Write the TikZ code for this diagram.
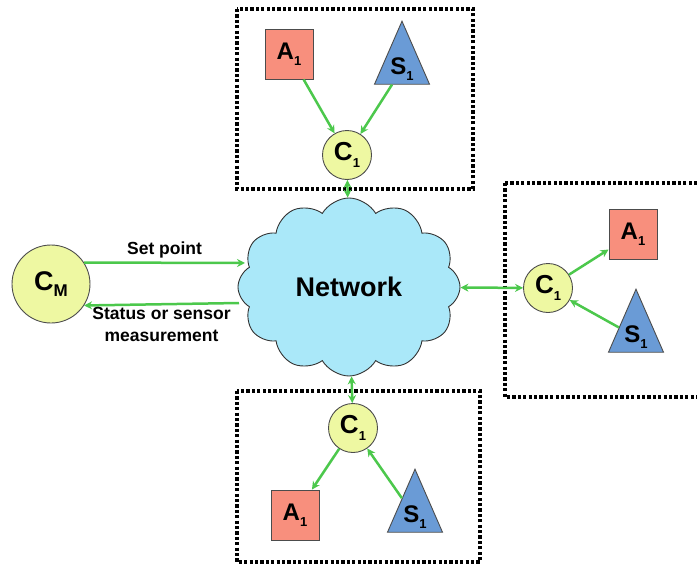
\documentclass[tikz,border=0pt]{standalone}
\usepackage{fontspec}
\setmainfont{Liberation Sans}
\usetikzlibrary{shapes.geometric,shapes.symbols,arrows.meta}
\definecolor{sqfill}{HTML}{F88F7D}
\definecolor{trifill}{HTML}{6A9BD6}
\definecolor{circfill}{HTML}{EEF8A2}
\definecolor{cloudfill}{HTML}{AAE8F9}
\definecolor{arrgreen}{HTML}{4CC84C}
\newcommand\mysub[3][13]{#2\raisebox{-0.45ex}{\fontsize{#1}{#1}\selectfont #3}}
\tikzset{
  act/.style={draw=black!70, line width=0.9pt, fill=sqfill, minimum width=48, minimum height=50, inner sep=0pt, font=\bfseries\fontsize{24}{24}\selectfont},
  sens/.style={draw=black!70, line width=0.9pt, fill=trifill, isosceles triangle, isosceles triangle stretches, shape border rotate=90, minimum width=55, minimum height=63, inner sep=0pt, font=\bfseries\fontsize{24}{24}\selectfont},
  ctrl/.style={draw=black!70, line width=0.9pt, fill=circfill, circle, minimum size=49, inner sep=0pt, font=\bfseries\fontsize{26}{26}\selectfont},
  conn/.style={draw=arrgreen, line width=2.5pt, -{Stealth[length=8pt,width=8pt]}},
  bconn/.style={draw=arrgreen, line width=2.5pt, {Stealth[length=8pt,width=8pt]}-{Stealth[length=8pt,width=8pt]}},
  grp/.style={draw=black, line width=3.5pt, dash pattern=on 3.2pt off 2.2pt},
  lab/.style={font=\bfseries\fontsize{17.5}{22}\selectfont, align=center, inner sep=0pt}
}
\begin{document}
\begin{tikzpicture}[x=1pt,y=-1pt]
\useasboundingbox (0,0) rectangle (697,565);
\clip (0,0) rectangle (697,565);
% group boxes
\draw[grp] (237,9) rectangle (473,189);
\draw[grp] (505,183) rectangle (730,397);
\draw[grp] (237,391) rectangle (480,562);
% network
\node[cloud, cloud puffs=12, cloud puff arc=120, aspect=1.25, draw=black!80, line width=0.9pt, fill=cloudfill, minimum width=222, minimum height=178, inner sep=0pt, font=\bfseries\fontsize{27}{27}\selectfont] (Net) at (349,287) {Network};
% master controller
\node[ctrl, minimum size=78, font=\bfseries\fontsize{27}{27}\selectfont] (CM) at (51,284) {\mysub[17]{C}{M}};
% top group
\node[act] (A1t) at (289,54) {\mysub{A}{1}};
\node[sens] (S1t) at (402,69) {\mysub{S}{1}};
\node[ctrl] (C1t) at (347,155) {\mysub{C}{1}};
% right group
\node[ctrl] (C1r) at (548,288) {\mysub{C}{1}};
\node[act] (A1r) at (633,234) {\mysub{A}{1}};
\node[sens] (S1r) at (636,337) {\mysub{S}{1}};
% bottom group
\node[ctrl] (C1b) at (353,428) {\mysub{C}{1}};
\node[act] (A1b) at (295,515) {\mysub{A}{1}};
\node[sens] (S1b) at (415,517) {\mysub{S}{1}};
% connectors within groups
\draw[conn] (A1t) -- (C1t);
\draw[conn] (S1t) -- (C1t);
\draw[conn] (C1r) -- (A1r);
\draw[conn] (S1r) -- (C1r);
\draw[conn] (C1b) -- (A1b);
\draw[conn] (S1b) -- (C1b);
% network links
\draw[bconn] (Net) -- (C1t);
\draw[bconn] (Net) -- (C1r);
\draw[bconn] (Net) -- (C1b);
% master links
\coordinate (spEnd) at (245,263);
\coordinate (stStart) at (239,303);
\draw[conn] (CM.33) -- (spEnd) node[midway, above=3pt, lab] {Set point};
\draw[conn] (stStart) -- (CM.-33) node[midway, below=2pt, lab] {Status or sensor\\measurement};
\end{tikzpicture}
\end{document}
